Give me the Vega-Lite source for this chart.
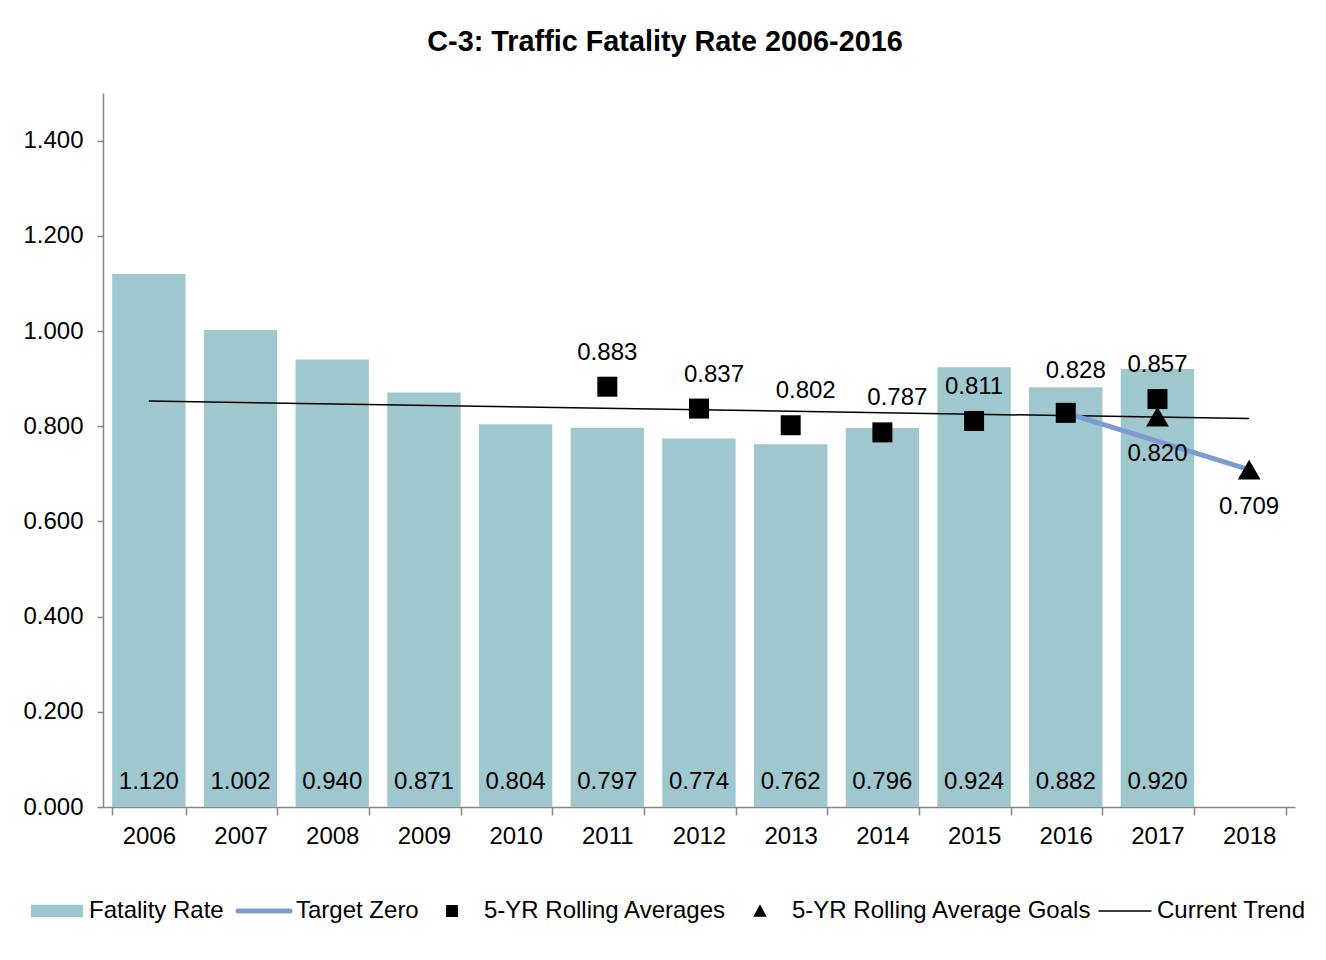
{
  "$schema": "https://vega.github.io/schema/vega-lite/v6.json",
  "autosize": {"type": "none"},
  "width": 1192,
  "height": 714,
  "padding": {"left": 103, "top": 93, "right": 31, "bottom": 153},
  "background": "white",
  "title": {
    "text": "C-3: Traffic Fatality Rate 2006-2016",
    "font": "Liberation Sans",
    "fontSize": 28.8,
    "fontWeight": "bold",
    "color": "black",
    "anchor": "middle",
    "dx": -34,
    "offset": 36
  },
  "config": {
    "view": {"stroke": null},
    "font": "Liberation Sans",
    "axis": {
      "labelFont": "Liberation Sans",
      "labelFontSize": 24,
      "labelColor": "black",
      "domainColor": "#868686",
      "tickColor": "#868686",
      "domainWidth": 1.5,
      "tickWidth": 1.5,
      "grid": false,
      "title": null
    }
  },
  "datasets": {
    "rows": [
      {"year": "2006", "series": "Fatality Rate", "value": 1.120},
      {"year": "2007", "series": "Fatality Rate", "value": 1.002},
      {"year": "2008", "series": "Fatality Rate", "value": 0.940},
      {"year": "2009", "series": "Fatality Rate", "value": 0.871},
      {"year": "2010", "series": "Fatality Rate", "value": 0.804},
      {"year": "2011", "series": "Fatality Rate", "value": 0.797},
      {"year": "2012", "series": "Fatality Rate", "value": 0.774},
      {"year": "2013", "series": "Fatality Rate", "value": 0.762},
      {"year": "2014", "series": "Fatality Rate", "value": 0.796},
      {"year": "2015", "series": "Fatality Rate", "value": 0.924},
      {"year": "2016", "series": "Fatality Rate", "value": 0.882},
      {"year": "2017", "series": "Fatality Rate", "value": 0.920},
      {"year": "2011", "series": "5-YR Rolling Averages", "value": 0.883},
      {"year": "2012", "series": "5-YR Rolling Averages", "value": 0.837},
      {"year": "2013", "series": "5-YR Rolling Averages", "value": 0.802},
      {"year": "2014", "series": "5-YR Rolling Averages", "value": 0.787},
      {"year": "2015", "series": "5-YR Rolling Averages", "value": 0.811},
      {"year": "2016", "series": "5-YR Rolling Averages", "value": 0.828},
      {"year": "2017", "series": "5-YR Rolling Averages", "value": 0.857},
      {"year": "2017", "series": "5-YR Rolling Average Goals", "value": 0.820},
      {"year": "2018", "series": "5-YR Rolling Average Goals", "value": 0.709},
      {"year": "2016", "series": "Target Zero", "value": 0.828},
      {"year": "2018", "series": "Target Zero", "value": 0.709},
      {"year": "2006", "series": "Current Trend", "value": 0.853},
      {"year": "2018", "series": "Current Trend", "value": 0.816}
    ]
  },
  "data": {"name": "rows"},
  "encoding": {
    "x": {
      "field": "year",
      "type": "ordinal",
      "scale": {
        "domain": ["2006","2007","2008","2009","2010","2011","2012","2013","2014","2015","2016","2017","2018"],
        "paddingInner": 0.2,
        "paddingOuter": 0.1
      },
      "axis": {"labelAngle": 0, "tickBand": "extent", "tickSize": 8, "labelPadding": 9}
    },
    "y": {
      "field": "value",
      "type": "quantitative",
      "scale": {"domain": [0, 1.5], "nice": false, "zero": true},
      "axis": {"values": [0, 0.2, 0.4, 0.6, 0.8, 1.0, 1.2, 1.4], "format": ".3f", "tickSize": 6, "labelPadding": 14}
    }
  },
  "layer": [
    {
      "transform": [{"filter": "datum.series == 'Fatality Rate'"}],
      "mark": {"type": "bar"},
      "encoding": {
        "color": {
          "field": "series",
          "type": "nominal",
          "scale": {
            "domain": ["Fatality Rate", "Target Zero", "5-YR Rolling Averages", "5-YR Rolling Average Goals", "Current Trend"],
            "range": ["#9fc7ce", "#7b9bd2", "black", "black", "black"]
          },
          "legend": {
            "title": null,
            "orient": "none",
            "legendX": -58,
            "legendY": 806,
            "direction": "horizontal",
            "padding": 0,
            "symbolSize": 2704,
            "labelFont": "Liberation Sans",
            "labelFontSize": 24,
            "labelColor": "black",
            "labelLimit": 0,
            "labelOffset": 20,
            "columnPadding": 4,
            "encode": {
              "symbols": {
                "update": {
                  "shape": {"signal": "datum.value == 'Fatality Rate' ? 'M-1,-0.24H1V0.24H-1Z' : datum.value == '5-YR Rolling Averages' ? 'M-1,0M1,0M-0.23,-0.23H0.23V0.23H-0.23Z' : datum.value == '5-YR Rolling Average Goals' ? 'M-1,0M1,0M0,-0.26L0.26,0.22L-0.26,0.22Z' : 'M-1,0H1'"},
                  "fill": {"signal": "datum.value == 'Fatality Rate' ? '#9fc7ce' : (datum.value == 'Target Zero' || datum.value == 'Current Trend') ? 'transparent' : 'black'"},
                  "stroke": {"signal": "datum.value == 'Target Zero' ? '#7b9bd2' : datum.value == 'Current Trend' ? 'black' : 'transparent'"},
                  "strokeWidth": {"signal": "datum.value == 'Target Zero' ? 5 : 1.5"},
                  "strokeCap": {"value": "round"},
                  "size": {"value": 2704},
                  "opacity": {"value": 1}
                }
              }
            }
          }
        }
      }
    },
    {
      "transform": [{"filter": "datum.series == 'Fatality Rate'"}],
      "mark": {"type": "text", "fontSize": 24, "color": "black", "baseline": "middle", "dy": -25},
      "encoding": {
        "y": {"datum": 0},
        "text": {"field": "value", "type": "quantitative", "format": ".3f"}
      }
    },
    {
      "transform": [{"filter": "datum.series == 'Current Trend'"}],
      "mark": {"type": "line", "color": "black", "strokeWidth": 1.5},
      "encoding": {}
    },
    {
      "transform": [{"filter": "datum.series == 'Target Zero'"}],
      "mark": {"type": "line", "color": "#7b9bd2", "strokeWidth": 5},
      "encoding": {}
    },
    {
      "transform": [{"filter": "datum.series == '5-YR Rolling Average Goals'"}],
      "mark": {"type": "point", "shape": "triangle-up", "filled": true, "color": "black", "size": 520, "opacity": 1},
      "encoding": {}
    },
    {
      "transform": [{"filter": "datum.series == '5-YR Rolling Averages'"}],
      "mark": {"type": "point", "shape": "square", "filled": true, "color": "black", "size": 400, "opacity": 1},
      "encoding": {}
    },
    {
      "transform": [{"filter": "datum.series == '5-YR Rolling Averages' && indexof(['2011','2015','2017'], datum.year) >= 0"}],
      "mark": {"type": "text", "fontSize": 24, "color": "black", "baseline": "middle", "dy": -34},
      "encoding": {"text": {"field": "value", "type": "quantitative", "format": ".3f"}}
    },
    {
      "transform": [{"filter": "datum.series == '5-YR Rolling Averages' && indexof(['2012','2013','2014'], datum.year) >= 0"}],
      "mark": {"type": "text", "fontSize": 24, "color": "black", "baseline": "middle", "dy": -34, "dx": 15},
      "encoding": {"text": {"field": "value", "type": "quantitative", "format": ".3f"}}
    },
    {
      "transform": [{"filter": "datum.series == '5-YR Rolling Averages' && datum.year == '2016'"}],
      "mark": {"type": "text", "fontSize": 24, "color": "black", "baseline": "middle", "dy": -42, "dx": 10},
      "encoding": {"text": {"field": "value", "type": "quantitative", "format": ".3f"}}
    },
    {
      "transform": [{"filter": "datum.series == '5-YR Rolling Average Goals'"}],
      "mark": {"type": "text", "fontSize": 24, "color": "black", "baseline": "middle", "dy": 37},
      "encoding": {"text": {"field": "value", "type": "quantitative", "format": ".3f"}}
    }
  ]
}
